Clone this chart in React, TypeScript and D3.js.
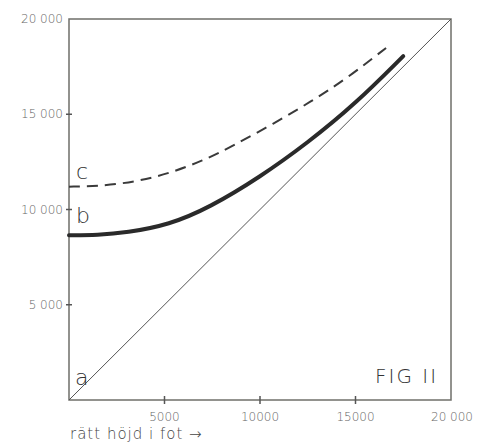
import React, { useEffect, useRef } from 'react'
import * as d3 from 'd3'

// values (feet)
const yTicks = [5000, 10000, 15000, 20000]
const yTickLabels = ['5 000', '10 000', '15 000', '20 000']
const xTicks = [5000, 10000, 15000, 20000]
const xTickLabels = ['5000', '10000', '15000', '20 000']

const lineA = [[0, 0], [20000, 20000]]
const curveB = [
  [0, 8650], [1500, 8660], [3000, 8780], [5250, 9200], [7350, 10100], [10000, 11700],
  [12500, 13500], [15000, 15550], [17500, 18050],
]
const curveC = [
  [0, 11200], [1500, 11220], [3500, 11450], [5250, 11900], [7000, 12550], [8600, 13350],
  [10700, 14500], [12650, 15650], [14500, 16850], [16600, 18480],
]

const W = 484, H = 443
const M = { top: 19, right: 33, bottom: 43, left: 69 }
const FONT = "'DejaVu Sans', sans-serif"

export default function App() {
  const ref = useRef<SVGSVGElement>(null)

  useEffect(() => {
    const svg = d3.select(ref.current)
    svg.selectAll('*').remove()

    const x = d3.scaleLinear().domain([0, 20000]).range([M.left, W - M.right])
    const y = d3.scaleLinear().domain([0, 20000]).range([H - M.bottom, M.top])

    // frame
    svg.append('rect')
      .attr('x', x(0)).attr('y', y(20000))
      .attr('width', x(20000) - x(0)).attr('height', y(0) - y(20000))
      .attr('fill', 'none').attr('stroke', '#6f6f6a').attr('stroke-width', 1.5)

    // y ticks
    const yt = svg.append('g')
    yTicks.forEach((t, i) => {
      if (t < 20000) {
        yt.append('line')
          .attr('x1', x(0) - 3).attr('x2', x(0) + 3)
          .attr('y1', y(t)).attr('y2', y(t))
          .attr('stroke', '#555').attr('stroke-width', 1.5)
      }
      yt.append('text')
        .attr('x', x(0) - 6).attr('y', y(t) + 4)
        .attr('text-anchor', 'end')
        .style('font-family', FONT).style('font-size', '12px').style('font-weight', 300)
        .attr('fill', '#666')
        .text(yTickLabels[i])
    })

    // x ticks
    const xt = svg.append('g')
    xTicks.forEach((t, i) => {
      if (t < 20000) {
        xt.append('line')
          .attr('x1', x(t)).attr('x2', x(t))
          .attr('y1', y(0) - 4).attr('y2', y(0) + 4)
          .attr('stroke', '#555').attr('stroke-width', 1.5)
      }
      xt.append('text')
        .attr('x', x(t) + (t === 20000 ? 1 : 0)).attr('y', y(0) + 21)
        .attr('text-anchor', 'middle')
        .style('font-family', FONT).style('font-size', '12px').style('font-weight', 300)
        .attr('fill', '#666')
        .text(xTickLabels[i])
    })

    const line = d3.line<number[]>()
      .x(d => x(d[0]))
      .y(d => y(d[1]))
      .curve(d3.curveBasis)

    // a: diagonal
    svg.append('path').datum(lineA).attr('d', line)
      .attr('fill', 'none').attr('stroke', '#555').attr('stroke-width', 1)

    // b: thick solid
    svg.append('path').datum(curveB).attr('d', line)
      .attr('fill', 'none').attr('stroke', '#2a2a2a').attr('stroke-width', 4)
      .attr('stroke-linecap', 'round')

    // c: dashed
    svg.append('path').datum(curveC).attr('d', line)
      .attr('fill', 'none').attr('stroke', '#3a3a3a').attr('stroke-width', 2)
      .attr('stroke-dasharray', '11 7')

    const lbl = (tx: string, px: number, py: number, size: number) =>
      svg.append('text')
        .attr('x', px).attr('y', py)
        .style('font-family', FONT).style('font-size', size + 'px').style('font-weight', 300)
        .attr('fill', '#333')
        .text(tx)

    lbl('c', 76, 179, 22)
    lbl('b', 76, 223, 22)
    lbl('a', 75, 385, 22)
    lbl('FIG II', 375, 383, 20).style('letter-spacing', '2px')
    lbl('rätt höjd i fot →', 70, 439, 15).attr('fill', '#444').style('letter-spacing', '1px')
  }, [])

  return (
    <svg ref={ref} width={W} height={H}
      style={{ position: 'absolute', left: 0, top: 0, background: '#fff' }} />
  )
}
